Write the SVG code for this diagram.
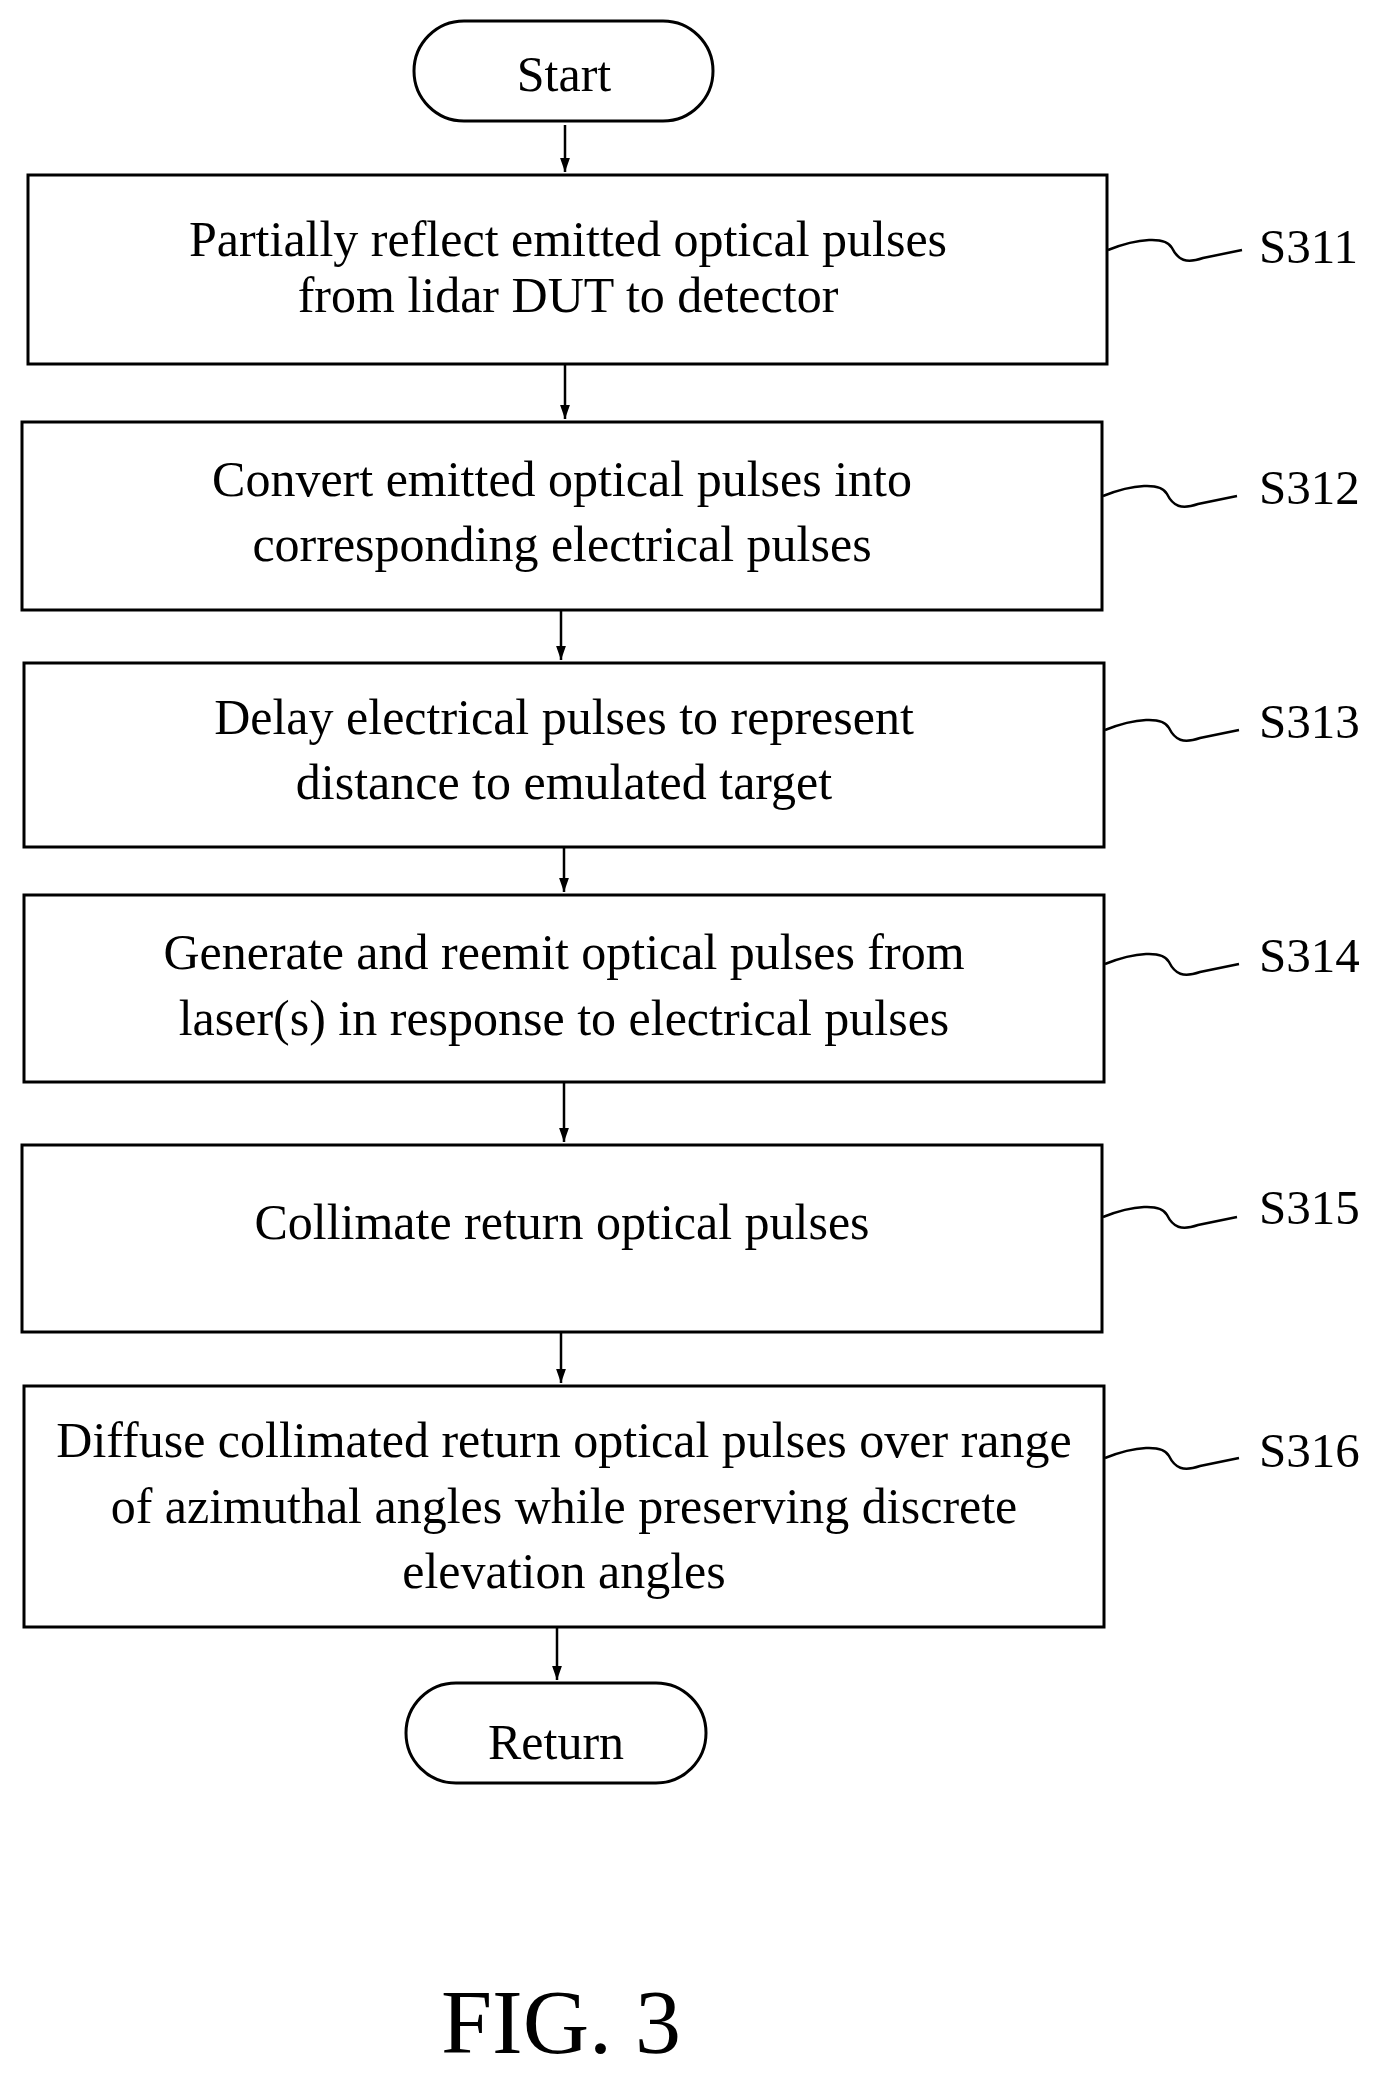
<svg xmlns="http://www.w3.org/2000/svg" width="1383" height="2075" viewBox="0 0 1383 2075">
<style>
.b{fill:#fff;stroke:#000;stroke-width:3}
.t{font-family:"Liberation Serif",serif;font-size:50px;text-anchor:middle;fill:#000}
.l{font-family:"Liberation Serif",serif;font-size:49px;fill:#000}
.c{stroke:#000;stroke-width:2.5;fill:none}
.s{stroke:#000;stroke-width:2.5;fill:none}
</style>
<defs><marker id="a" markerWidth="14" markerHeight="20" refX="20" refY="7" orient="auto" markerUnits="userSpaceOnUse" viewBox="0 0 20 14"><path d="M0,0L20,7L0,14z" fill="#000"/></marker>
<path id="sq" d="M0,0 C30,-12 58,-14 64,-2 C70,10 78,14 95,8 L134,0"/></defs>
<rect width="1383" height="2075" fill="#fff"/>
<g id="start"><rect class="b" x="414" y="21" width="299" height="100" rx="50"/><text class="t" x="564" y="91">Start</text></g>
<g id="s311"><rect class="b" x="28" y="175" width="1079" height="189"/><text class="t" x="568" y="256">Partially reflect emitted optical pulses</text><text class="t" x="568" y="312">from lidar DUT to detector</text><use href="#sq" class="s" x="1108" y="250"/><text class="l" x="1259" y="263">S311</text></g>
<g id="s312"><rect class="b" x="22" y="422" width="1080" height="188"/><text class="t" x="562" y="496">Convert emitted optical pulses into</text><text class="t" x="562" y="561">corresponding electrical pulses</text><use href="#sq" class="s" x="1103" y="496"/><text class="l" x="1259" y="504">S312</text></g>
<g id="s313"><rect class="b" x="24" y="663" width="1080" height="184"/><text class="t" x="564" y="734">Delay electrical pulses to represent</text><text class="t" x="564" y="799">distance to emulated target</text><use href="#sq" class="s" x="1105" y="730"/><text class="l" x="1259" y="738">S313</text></g>
<g id="s314"><rect class="b" x="24" y="895" width="1080" height="187"/><text class="t" x="564" y="969">Generate and reemit optical pulses from</text><text class="t" x="564" y="1035">laser(s) in response to electrical pulses</text><use href="#sq" class="s" x="1105" y="964"/><text class="l" x="1259" y="972">S314</text></g>
<g id="s315"><rect class="b" x="22" y="1145" width="1080" height="187"/><text class="t" x="562" y="1239">Collimate return optical pulses</text><use href="#sq" class="s" x="1103" y="1217"/><text class="l" x="1259" y="1224">S315</text></g>
<g id="s316"><rect class="b" x="24" y="1386" width="1080" height="241"/><text class="t" x="564" y="1457">Diffuse collimated return optical pulses over range</text><text class="t" x="564" y="1523">of azimuthal angles while preserving discrete</text><text class="t" x="564" y="1588">elevation angles</text><use href="#sq" class="s" x="1105" y="1458"/><text class="l" x="1259" y="1467">S316</text></g>
<g id="return"><rect class="b" x="406" y="1683" width="300" height="100" rx="50"/><text class="t" x="556" y="1759">Return</text></g>
<g id="connectors">
<line class="c" x1="565" y1="125" x2="565" y2="172" marker-end="url(#a)"/>
<line class="c" x1="565" y1="365" x2="565" y2="419" marker-end="url(#a)"/>
<line class="c" x1="561" y1="611" x2="561" y2="660" marker-end="url(#a)"/>
<line class="c" x1="564" y1="848" x2="564" y2="892" marker-end="url(#a)"/>
<line class="c" x1="564" y1="1083" x2="564" y2="1142" marker-end="url(#a)"/>
<line class="c" x1="561" y1="1333" x2="561" y2="1383" marker-end="url(#a)"/>
<line class="c" x1="557" y1="1628" x2="557" y2="1680" marker-end="url(#a)"/>
</g>
<text x="561" y="2053" style="font-family:'Liberation Serif',serif;font-size:92px;text-anchor:middle">FIG. 3</text>
</svg>
